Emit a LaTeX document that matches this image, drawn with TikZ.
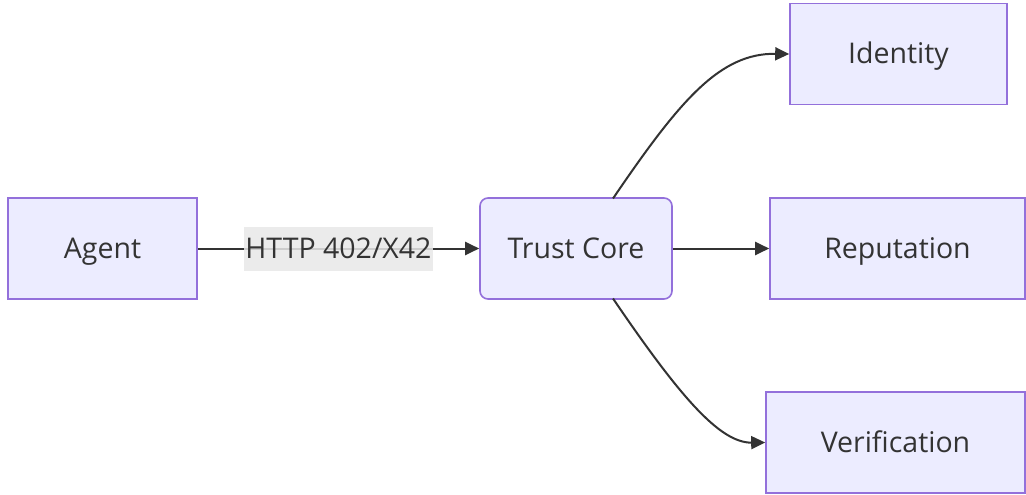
\documentclass[tikz,border=0pt]{standalone}
\usepackage{fontspec}
\setmainfont{Open Sans}
\usetikzlibrary{arrows.meta}
\definecolor{nfill}{HTML}{ECECFF}
\definecolor{nborder}{HTML}{9370DB}
\definecolor{edge}{HTML}{333333}
\definecolor{lblbg}{HTML}{E8E8E8}
\begin{document}
\begin{tikzpicture}[x=1pt,y=-1pt,
  txt/.style={text=edge,font=\fontsize{28.5}{32}\selectfont,text height=20pt,text depth=0pt},
  box/.style={txt,draw=nborder,fill=nfill,line width=1.6pt,inner sep=0pt},
  conn/.style={draw=edge,line width=2pt,-{Triangle[length=14pt,width=13pt]}}]
\useasboundingbox (0,0) rectangle (1026,495);
\node[box,minimum width=189pt,minimum height=101pt] (agent) at (102.5,248.5) {Agent};
\node[box,rounded corners=8pt,minimum width=192pt,minimum height=101pt] (core) at (576,248.5) {Trust Core};
\node[box,minimum width=217pt,minimum height=101pt] (id) at (898.5,54) {Identity};
\node[box,minimum width=255pt,minimum height=101pt] (rep) at (897.5,248.5) {Reputation};
\node[box,minimum width=259pt,minimum height=101pt] (ver) at (895.5,442.5) {Verification};
\draw[conn] (agent.east) -- (core.west);
\node[txt,fill=lblbg,fill opacity=0.85,text opacity=1,minimum width=189pt,minimum height=44pt,inner sep=0pt] (lbl) at (338.5,248.5) {HTTP 402/X42};
\draw[conn] (core.east) -- (rep.west);
\coordinate (ctop) at (613,198.5);
\coordinate (cbot) at (613,298.5);
\draw[conn] (ctop) .. controls (680,100) and (720,53) .. (id.west |- 0,54);
\draw[conn] (cbot) .. controls (680,397) and (720,443) .. (ver.west |- 0,442.5);
\end{tikzpicture}
\end{document}
